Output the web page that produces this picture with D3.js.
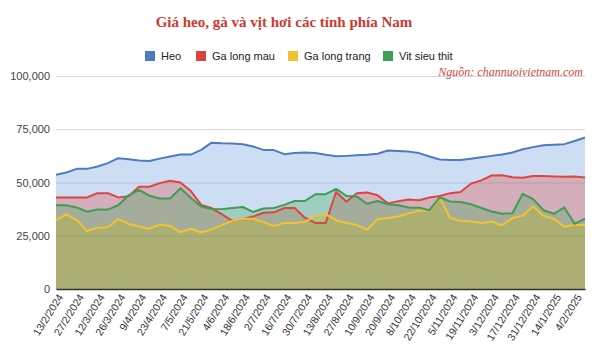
<!DOCTYPE html>
<html><head><meta charset="utf-8">
<script src="https://cdn.jsdelivr.net/npm/d3@7"></script>
<style>body{margin:0;background:#fff}svg{display:block}</style>
</head><body>
<svg id="c" width="604" height="360"></svg>
<script>
const categories = ["13/2/2024","20/2/2024","27/2/2024","5/3/2024","12/3/2024","19/3/2024","26/3/2024","2/4/2024","9/4/2024","16/4/2024","23/4/2024","30/4/2024","7/5/2024","14/5/2024","21/5/2024","28/5/2024","4/6/2024","11/6/2024","18/6/2024","25/6/2024","2/7/2024","9/7/2024","16/7/2024","23/7/2024","30/7/2024","6/8/2024","13/8/2024","20/8/2024","27/8/2024","3/9/2024","10/9/2024","13/9/2024","20/9/2024","1/10/2024","8/10/2024","15/10/2024","22/10/2024","29/10/2024","5/11/2024","12/11/2024","19/11/2024","26/11/2024","3/12/2024","10/12/2024","17/12/2024","24/12/2024","31/12/2024","7/1/2025","14/1/2025","21/1/2025","4/2/2025","11/2/2025"];
const tickLabels = ["13/2/2024","27/2/2024","12/3/2024","26/3/2024","9/4/2024","23/4/2024","7/5/2024","21/5/2024","4/6/2024","18/6/2024","2/7/2024","16/7/2024","30/7/2024","13/8/2024","27/8/2024","10/9/2024","20/9/2024","8/10/2024","22/10/2024","5/11/2024","19/11/2024","3/12/2024","17/12/2024","31/12/2024","14/1/2025","4/2/2025"];
const heo = [53600,54700,56400,56400,57500,59100,61400,60900,60300,60100,61200,62200,63100,63100,65300,68700,68400,68300,68000,66900,65300,65200,63300,63800,64100,63800,63000,62300,62500,62800,63000,63500,65000,64800,64500,63800,62200,60800,60600,60600,61200,61800,62500,63100,64100,65600,66600,67500,67700,68000,69500,71100];
const gaLongMau = [43000,43000,43000,43000,45000,45000,43000,43500,48000,48000,49700,50800,50000,46000,39500,38000,35000,32000,32800,34000,35800,36000,38000,38000,33500,31000,31000,45500,41000,45000,45300,44000,40200,41200,42000,41700,43000,43700,45000,45500,49400,51000,53300,53400,52500,52200,53000,53000,52800,52700,52800,52300];
const gaLongTrang = [32300,35000,32500,27200,28800,29000,32800,30600,29300,28200,30300,29600,26700,28300,26500,28000,30000,32000,33000,33000,31500,29500,31000,31000,31500,34300,35000,32300,31000,30000,27800,32800,33300,34000,35500,36700,36800,42700,33300,32000,31700,31000,31700,29800,33300,34400,38700,34400,33000,29300,30000,30000];
const vitSieuThit = [39300,39300,38300,36300,37300,37300,39300,44000,46500,43800,42500,42500,47300,42700,38700,37600,37500,38000,38500,36200,37800,38000,39500,41300,41300,44500,44500,47000,43700,43400,40000,41300,39800,39300,38300,38200,37000,43000,41100,40800,39800,38000,36400,35300,35600,44700,42200,37000,35300,38300,30600,33000];
const seriesNames = ["Heo","Ga long mau","Ga long trang","Vit sieu thit"];
const yTicks = [0,25000,50000,75000,100000];

const lineColors = ["#4f7bc0","#dc4640","#f4c230","#3e9c55"];
const fillColors = ["#5b8fd8","#e8433a","#fbbc04","#34a853"];
const seriesData = [heo, gaLongMau, gaLongTrang, vitSieuThit];

const svg = d3.select("#c");
const x = d3.scalePoint().domain(categories).range([56, 585]).padding(0);
const y = d3.scaleLinear().domain([0, 100000]).range([289, 76]);

// title
svg.append("text").attr("x", 284).attr("y", 27).attr("text-anchor","middle")
  .attr("font-family","'Liberation Serif','Times New Roman',serif").attr("font-weight","bold")
  .attr("font-size","15px").attr("fill","#d0382e").text("Giá heo, gà và vịt hơi các tỉnh phía Nam");

// legend
const legendX = [145, 196, 288, 383];
const lg = svg.append("g");
seriesNames.forEach((n,i)=>{
  lg.append("rect").attr("x",legendX[i]).attr("y",51).attr("width",10).attr("height",10).attr("fill",lineColors[i]);
  lg.append("text").attr("x",legendX[i]+16).attr("y",60).attr("font-family","'Liberation Sans',Arial,sans-serif")
    .attr("font-size","11px").attr("fill","#222").text(n);
});

// source
svg.append("text").attr("x",583).attr("y",76).attr("text-anchor","end")
  .attr("font-family","'Liberation Serif','Times New Roman',serif").attr("font-style","italic")
  .attr("font-size","12px").attr("fill","#cf4a3c").text("Nguồn: channuoivietnam.com");

// grid
const yAxis = d3.axisLeft(y).tickValues(yTicks).tickSize(-(585-56)).tickFormat(d3.format(","));
const ga = svg.append("g").attr("transform","translate(56,0)").call(yAxis);
ga.select(".domain").remove();
ga.selectAll(".tick line").attr("stroke","#d6d6d6").attr("stroke-width",1);
ga.selectAll(".tick text").attr("x",-6).attr("font-family","'Liberation Sans',Arial,sans-serif")
  .attr("font-size","11px").attr("fill","#444");

// areas
const area = d3.area().x((d,i)=>x(categories[i])).y0(y(0)).y1(d=>y(d));
const line = d3.line().x((d,i)=>x(categories[i])).y(d=>y(d));
seriesData.forEach((s,i)=>{
  svg.append("path").datum(s).attr("d",area).attr("fill",fillColors[i]).attr("fill-opacity",0.3);
});
seriesData.forEach((s,i)=>{
  svg.append("path").datum(s).attr("d",line).attr("fill","none").attr("stroke",lineColors[i])
    .attr("stroke-width",2).attr("stroke-linejoin","round");
});

// baseline + x axis
const xAxis = d3.axisBottom(x).tickValues(tickLabels).tickSize(0).tickSizeOuter(0);
const gx = svg.append("g").attr("transform",`translate(0,${y(0)})`).call(xAxis);
gx.select(".domain").attr("stroke","#333").attr("stroke-width",1.5);
gx.selectAll(".tick text").attr("font-family","'Liberation Sans',Arial,sans-serif")
  .attr("font-size","10.5px").attr("fill","#333").attr("text-anchor","end")
  .attr("transform","translate(4,6) rotate(-58)").attr("dy","0.35em").attr("y",0).attr("x",0);
</script>
</body></html>
